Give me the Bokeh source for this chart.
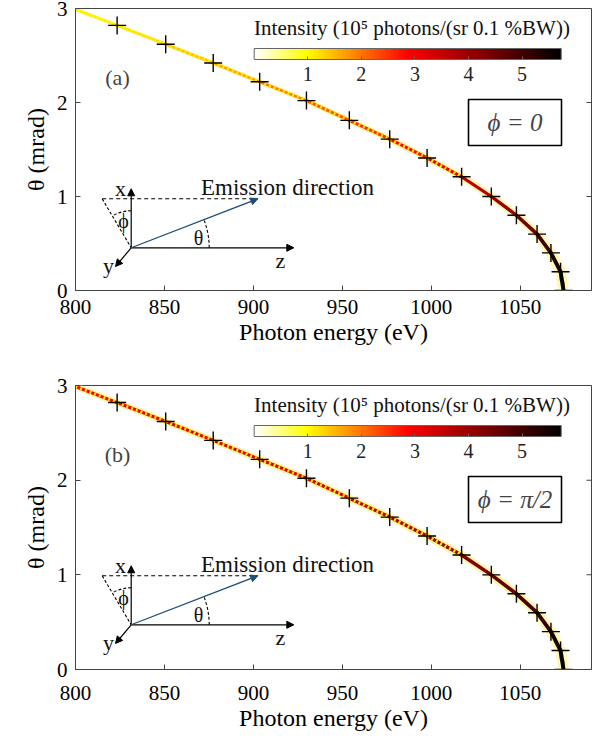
from bokeh.plotting import figure
from bokeh.layouts import column
from bokeh.models import (ColorBar, LinearColorMapper, FixedTicker, Label, Arrow,
                          NormalHead, ColumnDataSource, Range1d)
from bokeh.embed import file_html
from bokeh.resources import INLINE

# ---------------- data ----------------
energy_marks = [823.4, 850.7, 877.4, 903.5, 929.8, 953.9, 976.6, 997.6,
                1017.0, 1033.7, 1047.8, 1059.4, 1067.2, 1072.6, 1074.3]
theta_marks = [2.82, 2.62, 2.42, 2.22, 2.02, 1.81, 1.61, 1.41,
               1.21, 1.00, 0.80, 0.60, 0.40, 0.20, 0.00]

curve_energy = [800.0, 823.4, 850.7, 877.4, 903.5, 929.8, 953.9, 976.6, 997.6,
                1017.0, 1033.7, 1047.8, 1059.4, 1067.2, 1072.6, 1074.3]
curve_theta = [2.99, 2.82, 2.62, 2.42, 2.22, 2.02, 1.81, 1.61, 1.41,
               1.21, 1.00, 0.80, 0.60, 0.40, 0.20, 0.00]
intensity_phi0 = [1.0, 1.1, 1.3, 1.5, 1.8, 2.1, 2.4, 2.7, 3.0,
                  3.4, 3.8, 4.2, 4.7, 5.2, 5.6, 5.73]
intensity_phi90 = [2.9, 3.0, 3.1, 3.2, 3.3, 3.4, 3.5, 3.7, 3.9,
                   4.1, 4.4, 4.7, 5.0, 5.3, 5.6, 5.73]

cbar_ticks = [1, 2, 3, 4, 5]
cbar_low, cbar_high = 0.0, 5.73
x_ticks = [800, 850, 900, 950, 1000, 1050]
y_ticks = [0, 1, 2, 3]
X_MIN, X_MAX = 800, 1090
Y_MIN, Y_MAX = 0, 3

FONT = "'Liberation Serif', 'DejaVu Serif', serif"
FW = 516  # frame width in px


def make_palette(n=256):
    stops = [(0.0, (255, 255, 255)), (0.17, (255, 255, 0)),
             (0.5, (255, 0, 0)), (0.75, (128, 0, 0)), (1.0, (0, 0, 0))]
    pal = []
    for i in range(n):
        t = i / (n - 1)
        for (t0, c0), (t1, c1) in zip(stops[:-1], stops[1:]):
            if t0 <= t <= t1:
                f = (t - t0) / (t1 - t0)
                c = [round(a + (b - a) * f) for a, b in zip(c0, c1)]
                pal.append("#%02x%02x%02x" % tuple(c))
                break
    return pal


PALETTE = make_palette()


def make_panel(intensity, tag, box_text, fh, top, bottom, height, tick_standoff):
    p = figure(width=595, height=height, output_backend="svg", toolbar_location=None,
               x_range=Range1d(X_MIN, X_MAX), y_range=Range1d(Y_MIN, Y_MAX),
               min_border_left=75, min_border_right=4, min_border_top=top,
               min_border_bottom=bottom)
    p.grid.visible = False
    p.outline_line_color = "#444444"
    p.outline_line_width = 1
    p.background_fill_color = "white"
    p.border_fill_color = "white"

    def px(dx, dy):
        return (X_MIN + dx * (X_MAX - X_MIN) / FW, Y_MAX - dy * (Y_MAX - Y_MIN) / fh)

    for ax in (p.xaxis[0], p.yaxis[0]):
        ax.major_tick_in = 5
        ax.major_tick_out = 0
        ax.minor_tick_line_color = None
        ax.axis_line_color = "#444444"
        ax.major_tick_line_color = "#444444"
        ax.major_label_text_font = FONT
        ax.major_label_text_font_size = "21px"
        ax.major_label_text_color = "black"
        ax.axis_label_text_font = FONT
        ax.axis_label_text_font_size = "24px"
        ax.axis_label_text_font_style = "normal"
        ax.axis_label_text_color = "black"
    p.xaxis.ticker = FixedTicker(ticks=x_ticks)
    p.yaxis.ticker = FixedTicker(ticks=y_ticks)
    p.xaxis.axis_label = "Photon energy (eV)"
    p.yaxis.axis_label = "θ (mrad)"
    p.xaxis.major_label_standoff = tick_standoff
    p.xaxis.axis_label_standoff = 2
    p.yaxis.major_label_standoff = 8
    p.yaxis.axis_label_standoff = 5

    # mirrored inward ticks on the right edge (half of each clipped by the frame)
    p.rect(x=[X_MAX] * len(y_ticks), y=y_ticks, width=10, height=1,
           width_units="screen", height_units="screen",
           fill_color="#444444", line_color=None)

    mapper = LinearColorMapper(palette=PALETTE, low=cbar_low, high=cbar_high)

    # curve segments
    xs, ys, ii, hw, cw = [], [], [], [], []
    for k in range(len(curve_energy) - 1):
        xs.append([curve_energy[k], curve_energy[k + 1]])
        ys.append([curve_theta[k], curve_theta[k + 1]])
        iv = 0.5 * (intensity[k] + intensity[k + 1])
        ii.append(iv)
        hw.append(2.5 + 1.4 * iv)
        cw.append(2.0 + 0.35 * iv)
    src = ColumnDataSource(dict(xs=xs, ys=ys, I=ii, hw=hw, cw=cw))
    p.multi_line("xs", "ys", source=src, line_color="#fff6b8", line_width="hw",
                 line_cap="round", line_join="round")
    p.multi_line("xs", "ys", source=src, line_color="#ffe840",
                 line_width={"field": "cw"}, line_cap="round")
    p.multi_line("xs", "ys", source=src,
                 line_color={"field": "I", "transform": mapper},
                 line_width={"field": "cw"}, line_cap="round")
    up = [k for k in range(len(xs)) if ys[k][1] > 1.1]
    src_up = ColumnDataSource(dict(xs=[xs[k] for k in up], ys=[ys[k] for k in up],
                                   cw=[cw[k] for k in up]))
    p.multi_line("xs", "ys", source=src_up, line_color="#ffee00",
                 line_width={"field": "cw"}, line_dash="2 3")

    # crosses
    p.scatter(energy_marks, theta_marks, marker="cross", size=18,
              line_color="black", line_width=1.4)

    # color bar
    cb = ColorBar(color_mapper=mapper, orientation="horizontal", width=307, height=11,
                  ticker=FixedTicker(ticks=cbar_ticks), padding=0, margin=0,
                  location=(178.7, fh - 75),
                  major_label_text_font=FONT, major_label_text_font_size="20px",
                  major_label_text_color="#222222", label_standoff=7,
                  bar_line_color="#666666", major_tick_line_color="#666666",
                  major_tick_in=3, major_tick_out=0,
                  background_fill_alpha=0, border_line_color=None)
    p.add_layout(cb)
    tx, ty = px(336.5, 19)
    p.add_layout(Label(x=tx, y=ty, text="Intensity (10⁵ photons/(sr 0.1 %BW))",
                       text_font=FONT, text_font_size="21px", text_align="center",
                       text_baseline="middle", text_color="#111111"))

    # panel tag
    ax_, ay_ = px(42, 69)
    p.add_layout(Label(x=ax_, y=ay_, text=tag, text_font=FONT, text_font_size="22px",
                       text_align="center", text_baseline="middle"))

    # phi box
    bx, by = px(439.5, 114)
    p.rect(x=[bx], y=[by], width=93, height=46, width_units="screen",
           height_units="screen", fill_color="white", line_color="black", line_width=1.6)
    p.add_layout(Label(x=bx, y=by, text=box_text, text_font=FONT, text_font_size="25px",
                       text_font_style="italic", text_align="center",
                       text_baseline="middle"))

    # ---- coordinate sketch ----
    O = (55.7, 239.3)
    ox, oy = px(*O)
    dash_l = px(26.7, 190.3)
    e_end = px(182.3, 190.3)
    p.line([dash_l[0], e_end[0]], [dash_l[1], e_end[1]], line_color="black",
           line_width=1.1, line_dash="4 3")
    p.line([dash_l[0], ox], [dash_l[1], oy], line_color="black",
           line_width=1.1, line_dash="3 2")
    p.arc(x=[ox], y=[oy], radius=37, radius_units="screen",
          start_angle=1.5708, end_angle=2.11, line_color="black", line_width=1.1,
          line_dash="3 2")
    p.arc(x=[ox], y=[oy], radius=78, radius_units="screen",
          start_angle=0.0, end_angle=0.37, line_color="black", line_width=1.1,
          line_dash="3 2")
    for end, col in ((px(218.3, 239.3), "black"), (px(55.7, 180.3), "black"),
                     (px(40, 258), "black"), (e_end, "#1f4e79")):
        p.add_layout(Arrow(end=NormalHead(size=7, fill_color=col, line_color=col),
                           x_start=ox, y_start=oy, x_end=end[0], y_end=end[1],
                           line_color=col, line_width=1.2))
    for (dx, dy), t, fs in (((45, 180), "x", "22px"), ((33, 257), "y", "22px"),
                            ((205, 252), "z", "22px"), ((48, 212), "ϕ", "20px"),
                            ((123, 229), "θ", "20px"),
                            ((212, 179), "Emission direction", "23px")):
        lx, ly = px(dx, dy)
        p.add_layout(Label(x=lx, y=ly, text=t, text_font=FONT, text_font_size=fs,
                           text_align="center", text_baseline="middle",
                           text_color="#111111"))
    return p


p1 = make_panel(intensity_phi0, "(a)", "ϕ = 0", 282, 8, 80, 370, 9)
p2 = make_panel(intensity_phi90, "(b)", "ϕ = π/2", 284, 15, 71, 370, 16)
layout = column(p1, p2, spacing=0)

open("out.html", "w").write(file_html(layout, INLINE))
